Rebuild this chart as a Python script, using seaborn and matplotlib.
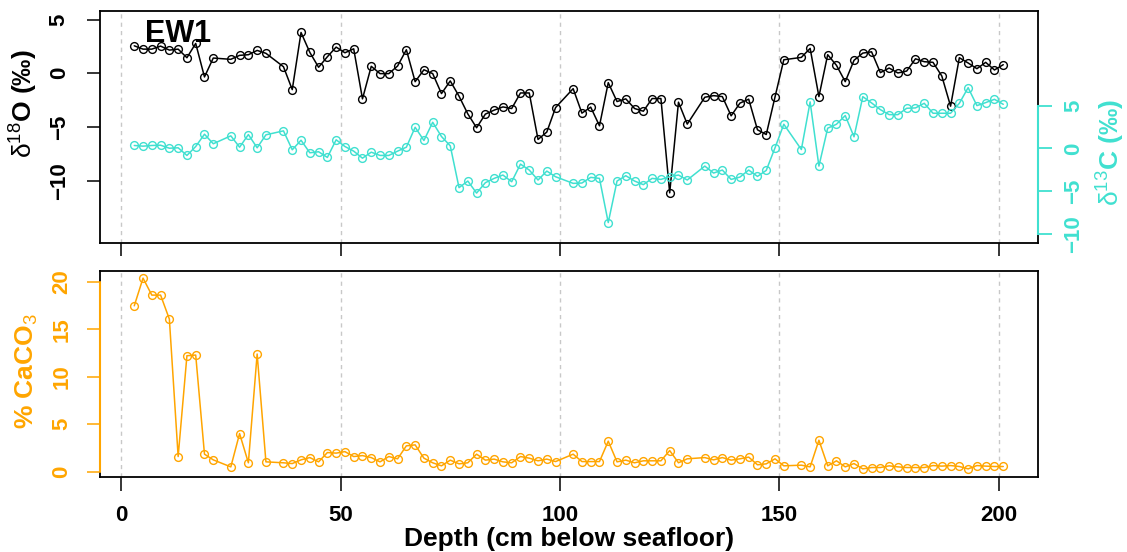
import matplotlib
matplotlib.use("Agg")
import matplotlib.pyplot as plt
import numpy as np
import pandas as pd
import seaborn as sns

# ---------------- data ----------------
depth = [3, 5, 7, 9, 11, 13, 15, 17, 19, 21,
         25, 27, 29, 31, 33,
         37, 39, 41, 43, 45, 47, 49, 51,
         53, 55, 57, 59, 61, 63, 65, 67, 69, 71, 73, 75, 77, 79, 81, 83, 85, 87, 89, 91, 93, 95, 97, 99,
         103, 105, 107, 109, 111, 113, 115, 117, 119, 121, 123, 125, 127, 129,
         133, 135, 137, 139, 141, 143, 145, 147, 149, 151,
         155, 157, 159, 161, 163, 165, 167, 169, 171, 173, 175, 177, 179, 181, 183, 185, 187, 189,
         191, 193, 195, 197, 199, 201]

d18o = [2.56, 2.25, 2.25, 2.53, 2.16, 2.25, 1.45, 2.78, -0.34, 1.42,
        1.30, 1.67, 1.73, 2.13, 1.86,
        0.61, -1.52, 3.80, 1.95, 0.56, 1.54, 2.44, 1.91,
        2.28, -2.38, 0.65, -0.03, -0.03, 0.68, 2.19, -0.78, 0.33, -0.03, -1.89, -0.71, -2.13, -3.78,
        -5.07, -3.80, -3.43, -3.13, -3.28, -1.83, -1.83, -6.16, -5.47, -3.19,
        -1.43, -3.71, -3.15, -4.89, -0.87, -2.63, -2.38, -3.28, -3.53, -2.35, -2.35, -11.13, -2.69, -4.73,
        -2.23, -2.08, -2.17, -3.96, -2.78, -2.41, -5.26, -5.70, -2.20, 1.26,
        1.48, 2.32, -2.17, 1.73, 0.74, -0.78, 1.21, 1.88, 2.00, 0.06, 0.49, 0.03, 0.21, 1.35, 1.08, 1.02,
        -0.25, -3.06, 1.45, 0.96, 0.43, 1.02, 0.31, 0.80]

d13c = [0.35, 0.27, 0.35, 0.38, 0.03, 0.08, -0.81, 0.23, 1.66, 0.55,
        1.47, 0.15, 1.62, 0.08, 1.59,
        2.05, -0.15, 0.96, -0.50, -0.38, -1.04, 1.01, 0.23,
        -0.31, -1.13, -0.43, -0.81, -0.81, -0.31, 0.15, 2.47, 0.93, 3.05, 1.39, 0.31, -4.56, -3.79,
        -5.19, -3.98, -3.48, -3.09, -3.87, -1.82, -2.51, -3.67, -2.63, -3.29,
        -4.06, -4.02, -3.36, -3.48, -8.62, -3.79, -3.17, -3.79, -4.21, -3.48, -3.60, -3.29, -3.09, -3.67,
        -2.05, -2.86, -2.51, -3.60, -3.33, -2.51, -3.25, -2.55, 0.08, 2.82,
        -0.12, 5.42, -2.05, 2.36, 2.82, 3.83, 1.36, 6.03, 5.30, 4.52, 3.94, 3.94, 4.68, 4.72, 5.26, 4.10,
        4.10, 4.10, 5.26, 7.08, 4.99, 5.34, 5.72, 5.14]

caco3 = [17.47, 20.39, 18.6, 18.6, 16.07, 1.58, 12.21, 12.28, 1.83, 1.23,
         0.49, 4.0, 0.92, 12.39, 1.02,
         0.92, 0.84, 1.23, 1.47, 1.02, 2.0, 1.94, 2.1,
         1.58, 1.68, 1.47, 1.02, 1.58, 1.34, 2.71, 2.81, 1.41, 0.92, 0.6, 1.2, 0.81, 0.92,
         1.83, 1.2, 1.31, 1.02, 0.92, 1.58, 1.41, 1.13, 1.31, 1.05,
         1.83, 1.05, 1.05, 1.05, 3.2, 1.02, 1.2, 0.92, 1.13, 1.13, 1.13, 2.21, 0.92, 1.34,
         1.47, 1.23, 1.47, 1.2, 1.34, 1.52, 0.71, 0.81, 1.34, 0.6,
         0.67, 0.49, 3.3, 0.6, 1.13, 0.49, 0.84, 0.28, 0.42, 0.42, 0.6, 0.49, 0.42, 0.42, 0.42, 0.63,
         0.57, 0.63, 0.53, 0.28, 0.63, 0.57, 0.53, 0.53]

x_ticks = [0, 50, 100, 150, 200]
d18o_ticks = [-10, -5, 0, 5]
d13c_ticks = [-10, -5, 0, 5]
caco3_ticks = [0, 5, 10, 15, 20]
d18o_range = (-15, 5)
d13c_range = (-10, 15)

title = "EW1"
xlabel = "Depth (cm below seafloor)"
d18o_label = r"$\mathrm{δ^{18}}$O (‰)"
d13c_label = r"$\mathrm{δ^{13}}$C (‰)"
caco3_label = r"% CaCO$_\mathrm{3}$"

BLACK = "black"
TURQ = "#40E0D0"
ORANGE = "#FFA500"
GRID = "#C8C8C8"

# ---------------- style ----------------
sns.set_theme(style="white")
plt.rcParams["font.family"] = ["Liberation Sans", "DejaVu Sans"]
plt.rcParams["font.weight"] = "bold"
plt.rcParams["mathtext.fontset"] = "custom"
plt.rcParams["mathtext.rm"] = "Liberation Sans:regular"
plt.rcParams["mathtext.it"] = "Liberation Sans:italic:regular"
plt.rcParams["mathtext.bf"] = "Liberation Sans:bold"
plt.rcParams["axes.unicode_minus"] = True

df = pd.DataFrame({"depth": depth, "d18o": d18o, "d13c": d13c, "caco3": caco3})


def expand(lo, hi, f=0.04):
    r = hi - lo
    return lo - f * r, hi + f * r


def fmt(v):
    return f"{v:g}".replace("-", "\u2212")


W, H = 1127, 552
fig = plt.figure(figsize=(W / 100, H / 100), dpi=100)


def rect(l, t, r, b):
    return [l / W, 1 - b / H, (r - l) / W, (b - t) / H]


ax1 = fig.add_axes(rect(99.5, 11, 1038, 243))
ax3 = fig.add_axes(rect(99.5, 270.5, 1038, 476.5))
ax2 = ax1.twinx()

line_kw = dict(marker="o", markersize=5.6, markerfacecolor="none", markeredgewidth=1.0,
               linewidth=1.1, estimator=None, sort=False, errorbar=None)

sns.lineplot(data=df, x="depth", y="d18o", color=BLACK, markeredgecolor=BLACK, ax=ax1, **line_kw)
sns.lineplot(data=df, x="depth", y="d13c", color=TURQ, markeredgecolor=TURQ, ax=ax2, **line_kw)
sns.lineplot(data=df, x="depth", y="caco3", color=ORANGE, markeredgecolor=ORANGE, ax=ax3, **line_kw)

xlim = expand(min(depth), max(depth))
for ax in (ax1, ax2, ax3):
    ax.set_xlabel("")
    ax.set_ylabel("")
    ax.set_xlim(*xlim)

ax1.set_ylim(*expand(*d18o_range))
ax2.set_ylim(*expand(*d13c_range))
ax3.set_ylim(*expand(min(caco3), max(caco3)))

# grid lines
for ax in (ax1, ax3):
    for xt in x_ticks:
        ax.axvline(xt, color=GRID, linestyle=(0, (3, 3)), linewidth=1.0, zorder=0)

# spines
for ax in (ax1, ax3):
    for s in ax.spines.values():
        s.set_visible(True)
        s.set_color(BLACK)
        s.set_linewidth(1.3)
for side in ("left", "top", "bottom"):
    ax2.spines[side].set_visible(False)
ax2.spines["right"].set_color(TURQ)
ax2.spines["right"].set_linewidth(1.5)
ax2.spines["right"].set_bounds(d13c_ticks[0], d13c_ticks[-1])

# orange axis line over the box on the bottom panel
ax3.plot([0, 0], [caco3_ticks[0], caco3_ticks[-1]], transform=ax3.get_yaxis_transform(),
         color=ORANGE, linewidth=1.5, clip_on=False, zorder=5)

TL = 16
# top panel ticks
ax1.set_xticks(x_ticks)
ax1.tick_params(axis="x", bottom=True, top=False, length=9.5, width=1.1, color=BLACK,
                labelbottom=False, direction="out")
ax1.set_yticks(d18o_ticks, [fmt(v) for v in d18o_ticks], rotation=90, va="center")
ax1.tick_params(axis="y", left=True, right=False, length=9.4, width=1.1, color=BLACK,
                labelcolor=BLACK, labelsize=TL, pad=12, direction="out")

ax2.set_yticks(d13c_ticks, [fmt(v) for v in d13c_ticks], rotation=90, va="center")
ax2.tick_params(axis="y", right=True, left=False, length=10, width=1.3, color=TURQ,
                labelcolor=TURQ, labelsize=TL, pad=8, direction="out")

# bottom panel ticks
ax3.set_xticks(x_ticks, [fmt(v) for v in x_ticks])
ax3.tick_params(axis="x", bottom=True, top=False, length=10, width=1.1, color=BLACK,
                labelcolor=BLACK, labelsize=TL, pad=10.5, direction="out")
ax3.set_yticks(caco3_ticks, [fmt(v) for v in caco3_ticks], rotation=90, va="center")
ax3.tick_params(axis="y", left=True, right=False, length=9.4, width=1.1, color=ORANGE,
                labelcolor=ORANGE, labelsize=TL, pad=10, direction="out")

# texts
ax1.text((145 - 99.5) / (1038 - 99.5), (243 - 42) / (243 - 11), title, transform=ax1.transAxes,
         fontsize=22, fontweight="bold", ha="left", va="baseline", color=BLACK)
fig.text(24 / W, 1 - 104 / H, d18o_label, rotation=90, ha="center", va="center",
         fontsize=19, fontweight="bold", color=BLACK)
fig.text(1111 / W, 1 - 152 / H, d13c_label, rotation=90, ha="center", va="center",
         fontsize=19, fontweight="bold", color=TURQ)
fig.text(27 / W, 1 - 371 / H, caco3_label, rotation=90, ha="center", va="center",
         fontsize=19, fontweight="bold", color=ORANGE)
fig.text(569 / W, 1 - 539 / H, xlabel, ha="center", va="center",
         fontsize=19, fontweight="bold", color=BLACK)

fig.savefig("out.png", dpi=100)
